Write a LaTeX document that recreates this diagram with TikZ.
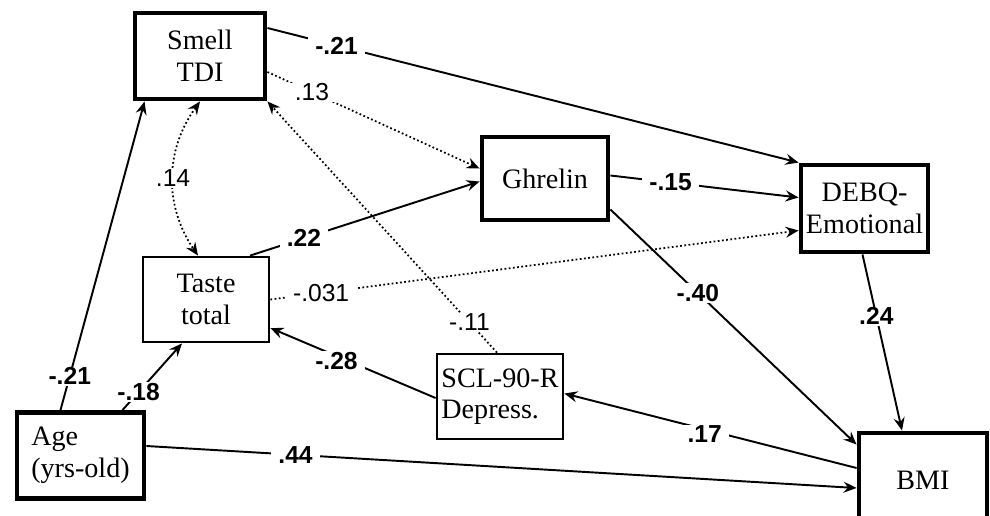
\documentclass[tikz,border=0pt]{standalone}
\usepackage{fontspec}
\setmainfont{Liberation Serif}
\setsansfont{Liberation Sans}
\usetikzlibrary{calc,arrows.meta}

\begin{document}
\begin{tikzpicture}[
x=0.02cm, y=-0.02cm,
thickbox/.style={
    draw,
    rectangle,
    line width=2.8pt,
    align=center,
    inner sep=0pt,
    font=\fontsize{16}{18}\selectfont},
thinbox/.style={
    thickbox,
    line width=1.6pt},
link/.style={
    line width=1.1pt,
    -{Stealth[length=0.26cm, width=0.22cm, inset=0.09cm]}},
weaklink/.style={
    link,
    line width=1pt,
    dash pattern=on 1pt off 1.4pt},
coef/.style={
    fill=white,
    inner xsep=4pt,
    inner ysep=0.5pt,
    font=\fontsize{14}{16}\sffamily\bfseries},
weakcoef/.style={
    coef,
    font=\fontsize{14}{16}\sffamily}
]

\useasboundingbox (0,0) rectangle (990,515);
\clip (0,0) rectangle (990,515);

\node (smell) at (200, 56) [thickbox, minimum width=2.6cm, minimum height=1.72cm] {Smell\\TDI};
\node (ghrelin) at (545, 178.5) [thickbox, minimum width=2.52cm, minimum height=1.66cm] {Ghrelin};
\node (debq) at (864.5, 208.5) [thickbox, minimum width=2.54cm, minimum height=1.74cm] {DEBQ-\\Emotional};
\node (taste) at (206, 299.5) [thinbox, minimum width=2.52cm, minimum height=1.7cm] {Taste\\total};
\node (scl) at (500, 396.5) [thinbox, minimum width=2.52cm, minimum height=1.7cm, align=left] {SCL-90-R\\Depress.};
\node (age) at (80.5, 455.5) [thickbox, minimum width=2.54cm, minimum height=1.72cm, align=left] {Age\\(yrs-old)};
\node (bmi) at (923, 480) [thickbox, minimum width=2.56cm, minimum height=1.88cm] {BMI};

%\draw (smell) -- (ghrelin);

\draw[link] ($(smell.east)+(0,-28)$) -- node[coef, pos=.13] {-.21} (debq.north west);
\draw[weaklink] ($(smell.east)+(0,16)$) -- node[weakcoef, pos=.21] {.13} ($(ghrelin.west)+(0,-10)$);
\draw[weaklink] ($(scl.north)+(-3,0)$) -- node[weakcoef, pos=.12] {-.11} (smell.south east);
\draw[weaklink, {Stealth[length=0.26cm, width=0.22cm, inset=0.09cm]}-{Stealth[length=0.26cm, width=0.22cm, inset=0.09cm]}]
    (smell.south) to[bend right=35] node[weakcoef, pos=.5] {.14} ($(taste.north)+(-8,0)$);
\draw[link] ($(taste.north)+(44,0)$) -- node[coef, pos=.235] {.22} ($(ghrelin.west)+(0,3)$);
\draw[link] ($(ghrelin.east)+(0,-3)$) -- node[coef, pos=.32] {-.15} ($(debq.west)+(0,-11)$);
\draw[weaklink] (taste.east) -- node[weakcoef, pos=.096] {-.031} ($(debq.west)+(0,22)$);
\draw[link] ($(ghrelin.east)+(0,31)$) -- node[coef, pos=.355] {-.40} ($(bmi.north west)+(0,14)$);
\draw[link] ($(debq.south)+(-2,0)$) -- node[coef, pos=.35] {.24} ($(bmi.north)+(-21,0)$);
\draw[link] ($(bmi.west)+(0,-12)$) -- node[coef, pos=.52, yshift=-0.1cm] {.17} ($(scl.east)+(0,-3)$);
\draw[link] ($(scl.west)+(0,1.5)$) -- node[coef, pos=.6, yshift=-0.1cm] {-.28} ($(taste.east)+(0,28.5)$);
\draw[link] ($(age.east)+(0,-9.5)$) -- node[coef, pos=.21] {.44} ($(bmi.west)+(0,8)$);
\draw[link] ($(age.north)+(-20,0)$) -- node[coef, pos=.11] {-.21} ($(smell.south west)+(12,0)$);
\draw[link] ($(age.north)+(42,0)$) -- node[coef, pos=.27] {-.18} ($(taste.south)+(-24,0)$);

\end{tikzpicture}
\end{document}
